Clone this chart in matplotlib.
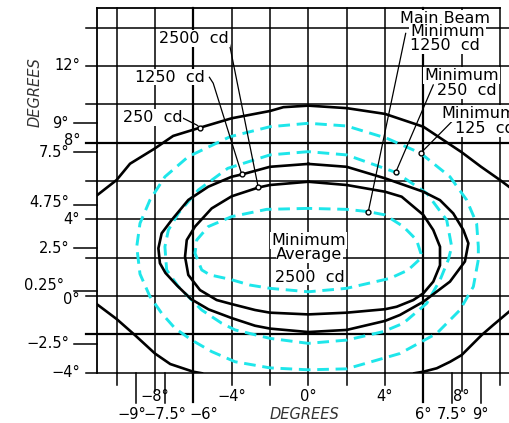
import matplotlib
matplotlib.use("Agg")
import matplotlib.pyplot as plt

# isocandela contours, horizontal / vertical angle in degrees
cd2500_x = [0, -2, -2.6, -4, -5.04, -5.91, -6.34, -6.43, -6.26, -5.65, -4.78, -4, -2.78, -2, 0,
            2, 4, 4.61, 5.48, 6, 6.52, 6.87, 6.87, 6.52, 6, 4.87, 4, 2, 0]
cd2500_y = [5.96, 5.79, 5.66, 5.2, 4.57, 3.62, 2.92, 2.05, 1.1, 0.31, -0.21, -0.42, -0.73, -0.87, -0.96,
            -0.87, -0.69, -0.56, -0.21, 0.14, 0.75, 1.6, 2.57, 3.44, 4.23, 5.18, 5.44, 5.79, 5.96]

cd1250_x = [0, -2, -3.47, -4, -5.22, -6.26, -7.13, -7.65, -7.82, -7.74, -7.45, -6.85, -6.12, -5.2, -4,
            -2.78, -2, 0, 2, 4, 4.78, 6, 7.39, 8.17, 8.35, 8.09, 7.56, 6.87, 6, 4, 2, 0]
cd1250_y = [6.89, 6.74, 6.34, 6.22, 5.7, 5.01, 3.96, 3.27, 2.49, 1.71, 1.2, 0.55, -0.16, -0.7, -1.15,
            -1.55, -1.7, -1.88, -1.77, -1.3, -0.99, -0.3, 0.75, 1.8, 2.75, 3.44, 4.31, 5.0, 5.44, 6.14, 6.74, 6.89]

cd250_top_x = [-11, -10, -9.3, -8, -7.05, -5.65, -4, -2, -1.3, 0, 2, 4, 6, 8, 9, 10, 11]
cd250_top_y = [5.27, 6.05, 6.9, 7.7, 8.35, 8.78, 9.27, 9.65, 9.85, 9.93, 9.8, 9.5, 8.83, 7.5, 6.75, 6.05, 5.3]
cd250_left_x = [-11, -10, -9, -8, -7.2, -6, -5.55]
cd250_left_y = [-0.45, -1.2, -2.08, -3.0, -3.55, -3.95, -4.03]
cd250_right_x = [5.53, 6, 6.7, 7.4, 8, 9.05, 9.65, 10.47, 11]
cd250_right_y = [-4.03, -3.95, -3.77, -3.43, -3.08, -2.03, -1.51, -0.82, -0.4]

min125_x = [0, -2, -4.08, -6.26, -7.48, -8.26, -8.78, -8.95, -8.78, -8.26, -7.65, -6.95, -6.08, -5.04,
            -3.82, -2, 0, 2, 4.78, 6.7, 7.91, 8.61, 8.87, 8.87, 8.78, 8.26, 7.39, 5.86, 4.09, 2, 0]
min125_y = [9.01, 8.83, 8.31, 7.27, 6.22, 5.01, 3.79, 2.57, 1.15, -0.03, -0.9, -1.69, -2.3, -2.9,
            -3.43, -3.75, -3.85, -3.8, -3.0, -1.95, -0.73, 0.49, 1.9, 2.57, 3.79, 5.01, 6.22, 7.45, 8.23, 8.87, 9.01]

min250_x = [0, -2, -4.2, -5.74, -6.78, -7.3, -7.48, -7.39, -6.78, -6.26, -5.56, -4.52, -3.82, -2, 0,
            2, 3.91, 4.96, 6.18, 6.87, 7.3, 7.48, 7.22, 6.18, 4.56, 2, 0]
min250_y = [7.53, 7.36, 6.66, 5.53, 4.31, 3.44, 2.57, 1.36, 0.49, -0.03, -0.73, -1.42, -1.77, -2.21, -2.47,
            -2.3, -1.86, -1.42, -0.38, 0.83, 1.88, 2.57, 3.96, 5.36, 6.45, 7.36, 7.53]

beam1250_x = [0, -2.17, -4, -4.61, -5.22, -5.82, -5.91, -5.56, -5.13, -4.08, -3.04, -2, 0, 2, 4.26,
              5.2, 5.85, 5.88, 5.65, 4.96, 4, 3.13, 2, 0]
beam1250_y = [4.57, 4.52, 4.14, 3.88, 3.62, 2.92, 2.23, 1.36, 1.1, 0.87, 0.57, 0.4, 0.22, 0.4, 0.92,
              1.35, 1.95, 2.2, 2.92, 3.62, 4.23, 4.4, 4.52, 4.57]

# axis labelling
y_major_labels = [12, 8, 4, 0, -4]
y_minor_labels = [9, 7.5, 4.75, 2.5, 0.25, -2.5]
x_row1_labels = [-8, -4, 0, 4, 8]
x_row2_labels = [-9, -7.5, -6, 6, 7.5, 9]
grid_x = list(range(-10, 11, 2))
grid_y = list(range(-4, 15, 2))

W, H, DPI = 509, 423, 100
PX = 19.17  # pixels per degree
CYAN = "#1ee6ea"


def deg(v):
    return f"{v:g}\u00b0".replace("-", "\u2212")


fig = plt.figure(figsize=(W / DPI, H / DPI), dpi=DPI)
ax = fig.add_axes([97.43 / W, (H - 372.68) / H, 421.74 / W, 364.23 / H])
ax.set_xlim(-11, 11)
ax.set_ylim(-4, 15)
ax.axis("off")

# grid and frame
for gx in grid_x:
    ax.plot([gx, gx], [-4, 15], color="k", lw=1.6 if abs(gx) == 6 else 1.1, zorder=1, clip_on=False)
for gy in grid_y:
    ax.plot([-11 - 11.4 / PX, 11], [gy, gy], color="k", lw=1.6 if gy in (-2, 8) else 1.1,
            zorder=1, clip_on=False)
ax.plot([-11, -11], [-4, 15], color="k", lw=1.3, zorder=1, clip_on=False)
ax.plot([-11, 10], [15, 15], color="k", lw=1.3, zorder=1, clip_on=False)

# vertical axis ticks and labels
for v in y_minor_labels:
    ax.plot([-11 - 23.4 / PX, -11], [v, v], color="k", lw=1.1, clip_on=False)
nudge = {0.25: (-5, 6), 0: (0, -3), 4.75: (0, 2), 8: (0, 2)}
for v in y_major_labels + y_minor_labels:
    gap = 17.4 if v in y_major_labels else 28.4
    dx, dy = nudge.get(v, (0, 0))
    ax.text(-11 - (gap - dx) / PX, v + dy / PX, deg(v), ha="right", va="center", fontsize=10.5)

# horizontal axis ticks and labels
tick_len = {-8: 18, -6: 29, 6: 29, 8: 18}
for gx in grid_x:
    ax.plot([gx, gx], [-4, -4 - tick_len.get(gx, 12) / PX], color="k",
            lw=1.6 if abs(gx) == 6 else 1.1, clip_on=False)
for v in x_row2_labels:
    if abs(v) != 6:
        ax.plot([v, v], [-4, -4 - 30 / PX], color="k", lw=1.1, clip_on=False)
for v in x_row1_labels:
    ax.text(v, -5.22, deg(v), ha="center", va="center", fontsize=10.5)
shift = {-6: 11, -9: -4}
for v in x_row2_labels:
    ax.text(v + shift.get(v, 0) / PX, -6.16, deg(v), ha="center", va="center", fontsize=10.5)

ax.text(-0.22, -6.16, "DEGREES", ha="center", va="center", fontsize=10.5,
        style="italic", color="#333333")
ax.text(-14.26, 10.64, "DEGREES", ha="center", va="center", fontsize=10.5,
        style="italic", color="#333333", rotation=90)

# contours
dash = (0, (4, 2.3))
for xs, ys in [(min125_x, min125_y), (min250_x, min250_y), (beam1250_x, beam1250_y)]:
    ax.plot(xs, ys, color=CYAN, lw=2.1, linestyle=dash, zorder=3)
for xs, ys in [(cd250_top_x, cd250_top_y), (cd250_left_x, cd250_left_y),
               (cd250_right_x, cd250_right_y), (cd1250_x, cd1250_y), (cd2500_x, cd2500_y)]:
    ax.plot(xs, ys, color="k", lw=1.9, solid_joinstyle="round", zorder=4)

# callouts
box = dict(facecolor="white", edgecolor="none", boxstyle="square,pad=0.05")
labels = [
    (-5.96, 13.21, "2500  cd"),
    (-7.21, 11.18, "1250  cd"),
    (-8.13, 9.09, "250  cd"),
    (7.13, 14.23, "Main Beam"),
    (7.26, 13.56, "Minimum"),
    (7.13, 12.83, "1250  cd"),
    (7.99, 11.27, "Minimum"),
    (8.28, 10.49, "250  cd"),
    (8.9, 9.27, "Minimum"),
    (9.22, 8.49, "125  cd"),
    (0.01, 2.66, "Minimum"),
    (0.06, 1.91, "Average"),
    (0.09, 0.75, "2500  cd"),
]
for x, y, s in labels:
    ax.text(x, y, s, ha="center", va="baseline", fontsize=11.5, bbox=box, zorder=6)

leaders = [
    ([-4.12, -2.61], [13.18, 5.66]),
    ([-5.16, -4.96, -3.47], [11.41, 11.1, 6.34]),
    ([-6.52, -5.82, -5.65], [9.27, 8.92, 8.78]),
    ([5.08, 3.13], [13.7, 4.4]),
    ([6.52, 4.56], [11.01, 6.45]),
    ([7.48, 5.86], [9.09, 7.45]),
]
for xs, ys in leaders:
    ax.plot(xs, ys, color="k", lw=0.9, zorder=5)
    ax.plot(xs[-1], ys[-1], "o", ms=3.5, mfc="white", mec="k", mew=1, zorder=5)

fig.savefig("out.png", dpi=DPI)
